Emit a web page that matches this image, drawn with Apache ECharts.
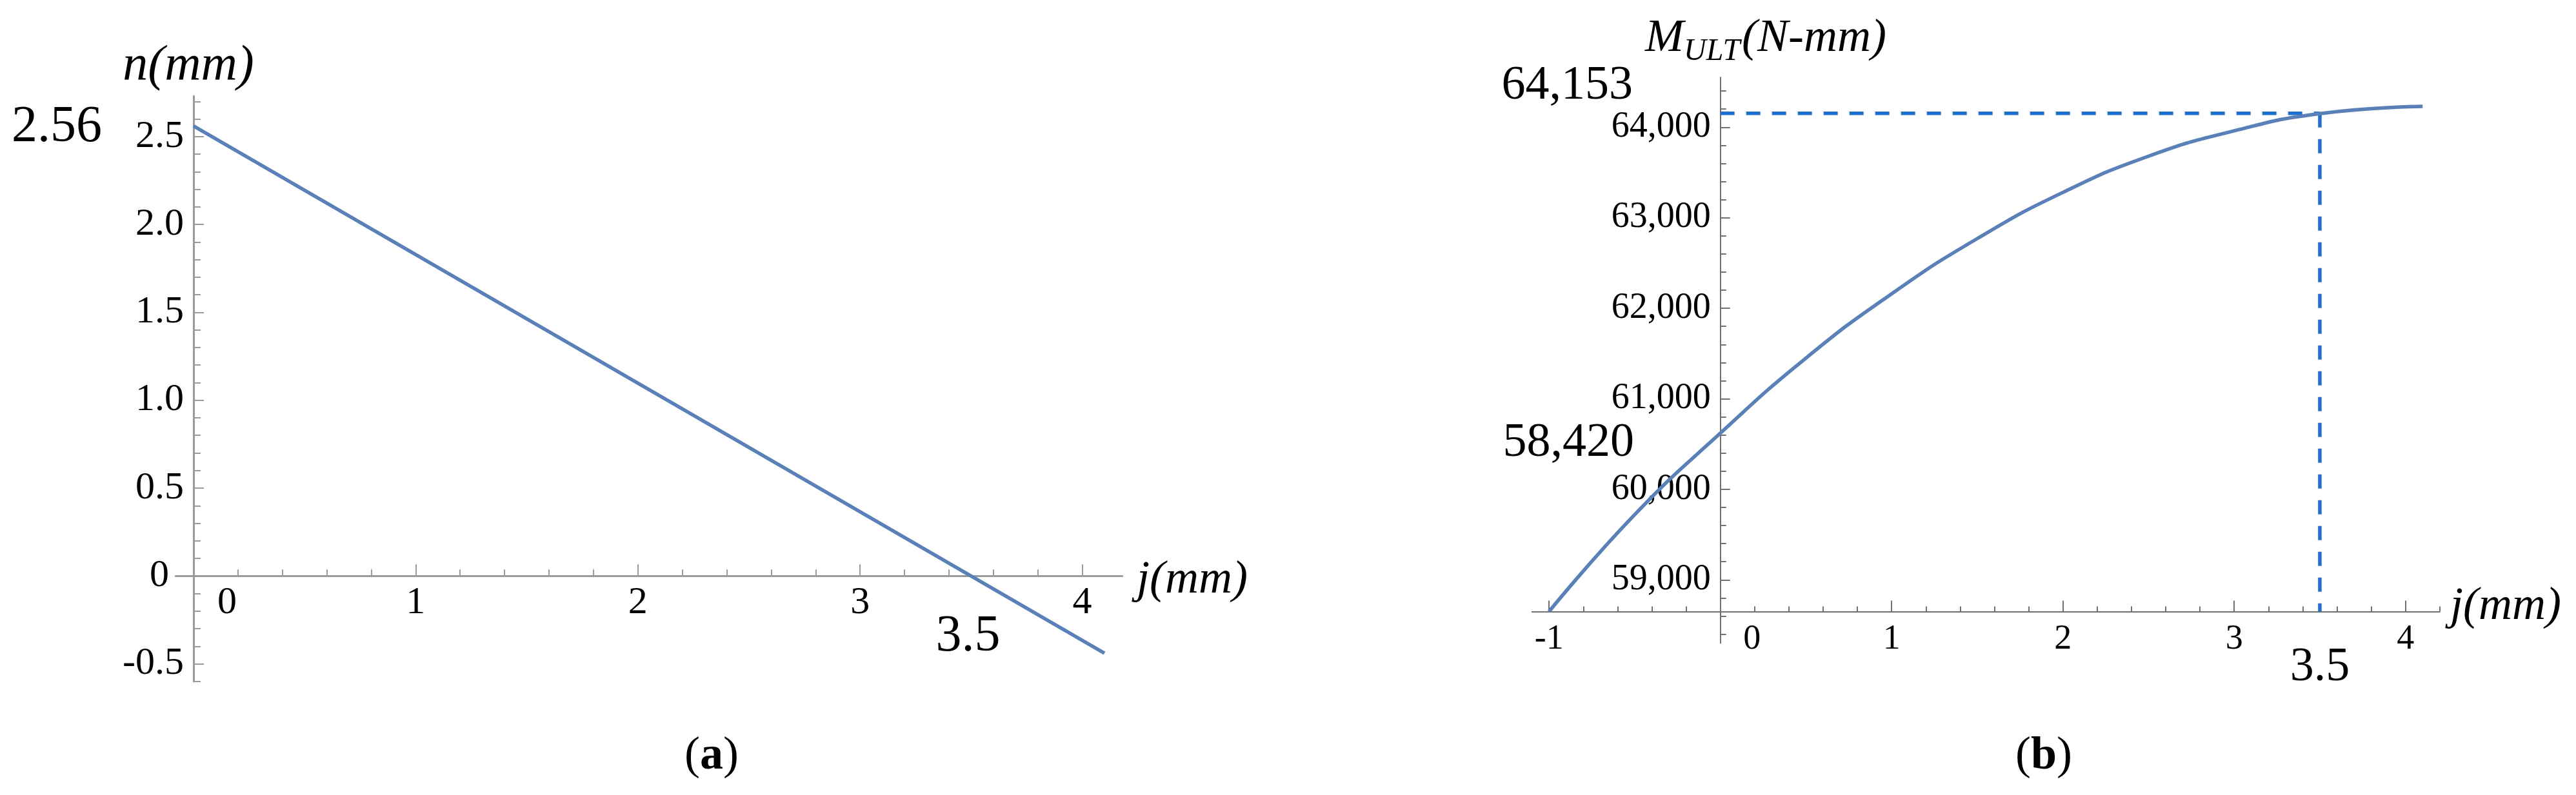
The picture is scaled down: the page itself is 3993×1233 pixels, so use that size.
<!DOCTYPE html>
<html><head><meta charset="utf-8">
<script src="https://cdn.jsdelivr.net/npm/echarts@6/dist/echarts.min.js"></script>
<style>html,body{margin:0;padding:0;background:#fff}#c{width:3993px;height:1233px}</style>
</head><body><div id="c"></div>
<script>
// ---------- data ----------
// (a) n(mm) versus j(mm)
const jA = [0, 4.1];
const nA = [2.56, -0.44];
// (b) M_ULT (N-mm) versus j(mm)
const jB = [-1, -0.5, 0, 0.5, 1, 1.5, 2, 2.5, 3, 3.5, 4.1];
const mB = [58650, 59720, 60620, 61450, 62160, 62770, 63280, 63680, 63960, 64150, 64230];
// marked values
const nStart = 2.56, jZero = 3.5;
const mMark = 64153, jMark = 3.5, mNote = 58420, mAxis = 58650;
// axis ranges and tick labels
const xRangeA = [-0.08, 4.18], yRangeA = [0, 2.73], yRangeA2 = [-0.6, 0];
const xRangeB = [-1.1, 4.2], yRangeB = [58650, 64550], yRangeB2 = [58300, 58650];
const ticksA_x = [0, 1, 2, 3, 4];
const ticksA_y = [0, 0.5, 1, 1.5, 2, 2.5];
const ticksA_y2 = [-0.5];
const ticksB_x = [-1, 0, 1, 2, 3, 4];
const ticksB_y = [59000, 60000, 61000, 62000, 63000, 64000];

// ---------- layout / style ----------
const FONT = "'Liberation Serif','Times New Roman',serif";
const AXA = '#9a9a9a', AXB = '#707070';
const CURVE = '#5a80b8', DASH = '#1f6fcc';
const GA = {left: 272.4, width: 1467.2}, GB = {left: 2374.6, width: 1407.2};
// y axes cross the x axis at j = 0: shift them from the grid's left edge to that point
const offA = -(0 - xRangeA[0]) / (xRangeA[1] - xRangeA[0]) * GA.width;
const offB = -(0 - xRangeB[0]) / (xRangeB[1] - xRangeB[0]) * GB.width;

function steps(a, b, s) { const r = []; for (let k = 0; a + k * s <= b + 1e-9; k++) r.push(+(a + k * s).toFixed(4)); return r; }
const isMult = (v, m) => Math.abs(v / m - Math.round(v / m)) < 1e-6;
const minorA_x = steps(0.2, 4.0, 0.2).filter(v => !isMult(v, 1));
const minorA_y = steps(0.1, 2.7, 0.1).filter(v => !isMult(v, 0.5));
const minorA_y2 = steps(-0.6, -0.1, 0.1).filter(v => !isMult(v, 0.5));
const minorB_x = steps(-0.8, 4.2, 0.2).filter(v => !isMult(v, 1));
const minorB_y = steps(58800, 64400, 200).filter(v => !isMult(v, 1000));
const minorB2_y = [58400, 58600];

const chart = echarts.init(document.getElementById('c'), null, {renderer: 'canvas', width: 3993, height: 1233});

const lbl = (size, extra) => Object.assign({show: true, color: '#000', fontSize: size, fontFamily: FONT}, extra);
function axis(o) { return Object.assign({type: 'value', splitLine: {show: false}, axisPointer: {show: false}}, o); }
function minorAxis(grid, pos, range, vals, len, color, width, offset) {
  return axis({gridIndex: grid, position: pos, min: range[0], max: range[1], offset: offset || 0,
    axisLine: {show: false, onZero: false},
    axisTick: {show: true, inside: true, length: len, customValues: vals, lineStyle: {color: color, width: width}},
    axisLabel: {show: false}});
}
const G = o => Object.assign({containLabel: false, outerBoundsMode: 'none'}, o);

const option = {
  animation: false,
  backgroundColor: '#fff',
  grid: [
    G({left: GA.left, width: GA.width, top: 149.1, height: 744.2}),   // (a) upper part, x axis at n = 0
    G({left: GA.left, width: GA.width, top: 893.3, height: 163.6}),   // (a) y axis below the x axis
    G({left: GB.left, width: GB.width, top: 120.1, height: 828.3}),   // (b)
    G({left: GB.left, width: GB.width, top: 948.4, height: 49.1})     // (b) y axis below the x axis
  ],
  xAxis: [
    axis({gridIndex: 0, position: 'bottom', min: xRangeA[0], max: xRangeA[1],
      axisLine: {show: true, onZero: false, lineStyle: {color: AXA, width: 3}},
      axisTick: {show: true, inside: true, length: 18, customValues: ticksA_x.filter(v => v !== 0), lineStyle: {color: AXA, width: 2}},
      axisLabel: lbl(60, {customValues: ticksA_x, margin: 12,
        formatter: v => v === 0 ? '{z|0}' : String(v),
        rich: {z: {padding: [0, 0, 0, 104], fontSize: 60, fontFamily: FONT, color: '#000'}}})}),
    minorAxis(0, 'bottom', xRangeA, minorA_x, 10, AXA, 2),
    axis({gridIndex: 1, position: 'bottom', min: xRangeA[0], max: xRangeA[1], show: false}),
    axis({gridIndex: 2, position: 'bottom', min: xRangeB[0], max: xRangeB[1],
      axisLine: {show: true, onZero: false, lineStyle: {color: AXB, width: 2}},
      axisTick: {show: true, inside: true, length: 17, customValues: ticksB_x.filter(v => v !== 0), lineStyle: {color: AXB, width: 2}},
      axisLabel: lbl(54, {customValues: ticksB_x, margin: 16,
        formatter: v => v === 0 ? '{z|0}' : String(v),
        rich: {z: {padding: [0, 0, 0, 98], fontSize: 54, fontFamily: FONT, color: '#000'}}})}),
    minorAxis(2, 'bottom', xRangeB, minorB_x, 8, AXB, 2),
    axis({gridIndex: 3, position: 'bottom', min: xRangeB[0], max: xRangeB[1], show: false})
  ],
  yAxis: [
    axis({gridIndex: 0, position: 'left', min: yRangeA[0], max: yRangeA[1], offset: offA,
      axisLine: {show: true, onZero: false, lineStyle: {color: AXA, width: 3}},
      axisTick: {show: true, inside: true, length: 16, customValues: ticksA_y, lineStyle: {color: AXA, width: 2}},
      axisLabel: lbl(60, {customValues: ticksA_y, margin: 15,
        formatter: v => v === 0 ? '{z|0}' : v.toFixed(1),
        rich: {z: {padding: [0, 23, 0, 0], fontSize: 60, fontFamily: FONT, color: '#000'}}})}),
    minorAxis(0, 'left', yRangeA, minorA_y, 11, AXA, 2, offA),
    axis({gridIndex: 1, position: 'left', min: yRangeA2[0], max: yRangeA2[1], offset: offA,
      axisLine: {show: true, onZero: false, lineStyle: {color: AXA, width: 3}},
      axisTick: {show: true, inside: true, length: 16, customValues: ticksA_y2, lineStyle: {color: AXA, width: 2}},
      axisLabel: lbl(60, {customValues: ticksA_y2, margin: 15, formatter: v => v.toFixed(1)})}),
    minorAxis(1, 'left', yRangeA2, minorA_y2, 11, AXA, 2, offA),
    axis({gridIndex: 2, position: 'left', min: yRangeB[0], max: yRangeB[1], offset: offB,
      axisLine: {show: true, onZero: false, lineStyle: {color: AXB, width: 2}},
      axisTick: {show: true, inside: true, length: 15, customValues: ticksB_y, lineStyle: {color: AXB, width: 2}},
      axisLabel: lbl(56, {customValues: ticksB_y, margin: 15,
        formatter: v => v.toLocaleString('en-US')})}),
    minorAxis(2, 'left', yRangeB, minorB_y, 9, AXB, 2, offB),
    axis({gridIndex: 3, position: 'left', min: yRangeB2[0], max: yRangeB2[1], offset: offB,
      axisLine: {show: true, onZero: false, lineStyle: {color: AXB, width: 2}},
      axisTick: {show: true, inside: true, length: 9, customValues: minorB2_y, lineStyle: {color: AXB, width: 2}},
      axisLabel: {show: false}})
  ],
  series: [
    {type: 'line', xAxisIndex: 0, yAxisIndex: 0, data: jA.map((j, i) => [j, nA[i]]), clip: false,
      showSymbol: false, symbol: 'none', lineStyle: {color: CURVE, width: 5.5}, z: 3},
    {type: 'line', xAxisIndex: 3, yAxisIndex: 4, data: jB.map((j, i) => [j, mB[i]]), smooth: true,
      showSymbol: false, symbol: 'none', lineStyle: {color: CURVE, width: 5.5}, z: 3},
    {type: 'line', xAxisIndex: 3, yAxisIndex: 4, data: [[0, mMark], [jMark, mMark]],
      showSymbol: false, symbol: 'none', lineStyle: {color: DASH, width: 5.5, type: [22, 18]}, z: 2},
    {type: 'line', xAxisIndex: 3, yAxisIndex: 4, data: [[jMark, mMark], [jMark, mAxis]],
      showSymbol: false, symbol: 'none', lineStyle: {color: DASH, width: 5.5, type: [22, 18]}, z: 2}
  ]
};
chart.setOption(option);

const pA = v => chart.convertToPixel({seriesIndex: 0}, v);
const pB = v => chart.convertToPixel({seriesIndex: 1}, v);
function txt(x, y, text, size, align, extra) {
  return {type: 'text', x: x, y: y, silent: true, z: 10,
    style: Object.assign({text: text, fontSize: size, fontFamily: FONT, fill: '#000',
      align: align, textAlign: align, verticalAlign: 'middle', textVerticalAlign: 'middle'}, extra || {})};
}
const fmt = v => v.toLocaleString('en-US');
const ya = pA([0, nStart])[1];
const xa = pA([jZero, 0])[0];
const yb = pB([0, mMark])[1];
const xb = pB([jMark, mMark])[0];
const cap = () => ({rich: {
    p: {fontSize: 72, fontFamily: FONT, fill: '#000'},
    b: {fontSize: 72, fontFamily: FONT, fontWeight: 'bold', fill: '#000'}}});
chart.setOption({graphic: [
  txt(158, ya + 3, String(nStart), 80, 'right'),
  txt(xa - 5, 988, String(jZero), 80, 'center'),
  txt(292, 103, 'n(mm)', 78, 'center', {fontStyle: 'italic'}),
  txt(1762, 900, 'j(mm)', 72, 'left', {fontStyle: 'italic'}),
  txt(1103, 1173, '{p|(}{b|a}{p|)}', 72, 'center', cap()),
  txt(2531, yb - 42, fmt(mMark), 74, 'right'),
  txt(2533, 688, fmt(mNote), 74, 'right'),
  txt(2550, 60, '{m|M}{s|ULT}{m|(N-mm)}', 72, 'left', {rich: {
    m: {fontSize: 72, lineHeight: 72, fontFamily: FONT, fontStyle: 'italic', fill: '#000', verticalAlign: 'top'},
    s: {fontSize: 48, lineHeight: 48, fontFamily: FONT, fontStyle: 'italic', fill: '#000', verticalAlign: 'top', padding: [32, 3, 0, 0]}}}),
  txt(3798, 941, 'j(mm)', 72, 'left', {fontStyle: 'italic'}),
  txt(xb, 1036, String(jMark), 74, 'center'),
  txt(3168, 1173, '{p|(}{b|b}{p|)}', 72, 'center', cap())
]});
</script>
</body></html>
